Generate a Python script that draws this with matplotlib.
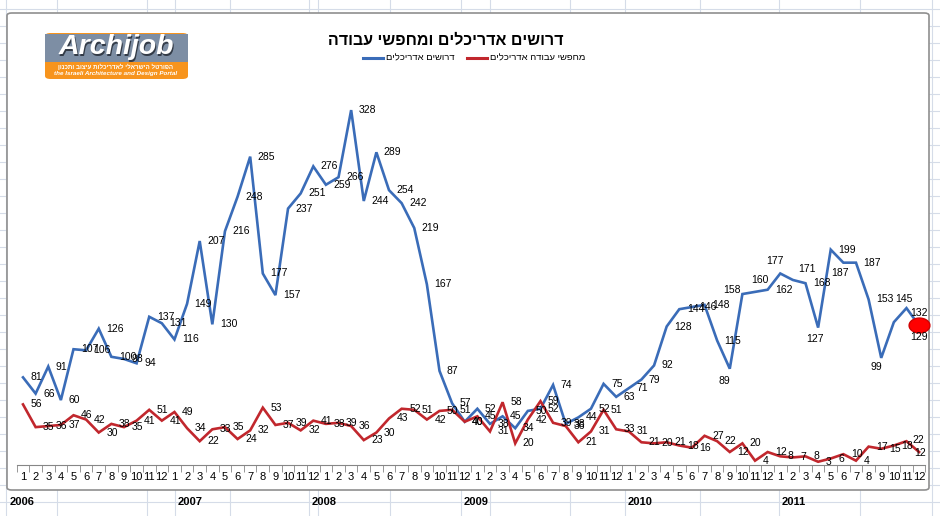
import numpy as np
import matplotlib.pyplot as plt
from matplotlib.patches import FancyBboxPatch, Rectangle
from matplotlib.lines import Line2D

plt.rcParams['font.family'] = ['Liberation Sans', 'DejaVu Sans']

# --- data (monthly, Jan 2006 - Dec 2011) ---
title_he = 'דרושים אדריכלים ומחפשי עבודה'
wanted_name = 'דרושים אדריכלים'
seekers_name = 'מחפשי עבודה אדריכלים'
years = ['2006', '2007', '2008', '2009', '2010', '2011']
month_labels = [str(m) for m in range(1, 13)] * 6

wanted = [81, 66, 91, 60, 107, 106, 126, 100, 98, 94, 137, 131,
          116, 149, 207, 130, 216, 248, 285, 177, 157, 237, 251, 276,
          259, 266, 328, 244, 289, 254, 242, 219, 167, 87, 57, 40,
          52, 38, 45, 34, 50, 52, 74, 38, 44, 52, 75, 63,
          71, 79, 92, 128, 144, 146, 148, 115, 89, 158, 160, 162,
          177, 171, 168, 127, 199, 187, 187, 153, 99, 132, 145, 129]

seekers = [56, 35, 36, 37, 46, 42, 30, 38, 35, 41, 51, 41,
           49, 34, 22, 33, 35, 24, 32, 53, 37, 39, 32, 41,
           38, 39, 36, 23, 30, 43, 52, 51, 42, 50, 51, 40,
           45, 31, 58, 20, 42, 59, 39, 36, 21, 31, 51, 33,
           31, 21, 20, 21, 18, 16, 27, 22, 12, 20, 4, 12,
           8, 7, 8, 3, 6, 10, 4, 17, 15, 18, 22, 12]

logo_he = 'הפורטל הישראלי לאדריכלות עיצוב ותכנון'
logo_en = 'the Israeli Architecture and Design Portal'

BLUE = '#3a6cb8'
RED = '#c1272d'

# labels that Excel put somewhere other than "right" (pixel offsets, ha)
wanted_lbl_pos = {56: (-5, -12, 'center'), 57: (-10, 4, 'center'), 58: (5, 12, 'center'),
                  60: (-5, 12, 'center'), 61: (14, 11, 'center'), 63: (-3, -11, 'center'),
                  65: (-3, -10, 'center'), 68: (-5, -9, 'center'),
                  69: (25, 9, 'center'), 70: (-3, 9, 'center'), 71: (0, -12, 'center')}
seekers_lbl_pos = {71: (1, -1, 'center'), 70: (12, 1, 'center')}


def rtl(s):
    # matplotlib has no bidi support, draw Hebrew in visual order
    return s[::-1]


W, H = 940, 516
fig = plt.figure(figsize=(9.4, 5.16), dpi=100)
fig.patch.set_facecolor('white')


def fx(px):
    return px / W


def fy(py):
    return 1 - py / H


# spreadsheet grid behind the chart
for y in range(9, H, 17):
    fig.add_artist(Line2D([0, 1], [fy(y), fy(y)], color='#d5dce8', lw=0.8, zorder=0))
for x in [6, 57, 147, 175, 230, 309, 318, 390, 461, 490, 570, 625, 700, 779, 860, 932]:
    fig.add_artist(Line2D([fx(x), fx(x)], [0, 1], color='#d5dce8', lw=0.8, zorder=0))

# chart area
frame = FancyBboxPatch((fx(7), fy(490)), fx(929) - fx(7), fy(13) - fy(490),
                       boxstyle='round,pad=0,rounding_size=0.005',
                       transform=fig.transFigure, fc='white', ec='#8f8f8f', lw=1.2, zorder=1)
fig.add_artist(frame)

# plot area
ymax = 350
ax = fig.add_axes([fx(16.7), fy(465), fx(925.4) - fx(16.7), ymax * 1.082 / H])
ax.set_zorder(3)
ax.patch.set_alpha(0)
x = np.arange(len(wanted))
ax.plot(x, wanted, color=BLUE, lw=1.9, zorder=3, solid_joinstyle='miter')
ax.plot(x, seekers, color=RED, lw=1.9, zorder=3, solid_joinstyle='miter')


def put_labels(vals, special):
    for i, v in enumerate(vals):
        dx, dy, ha = special.get(i, (7.5, 0, 'left'))
        ax.annotate(str(v), (i, v), xytext=(dx * 0.72, dy * 0.72), textcoords='offset points',
                    ha=ha, va='center', fontsize=7.5, zorder=5, annotation_clip=False)


put_labels(wanted, wanted_lbl_pos)
put_labels(seekers, seekers_lbl_pos)

# highlighted last point
t = np.linspace(0, 2 * np.pi, 40)
ellipse = np.column_stack([1.4 * np.cos(t), np.sin(t)])
ax.plot([x[-1]], [wanted[-1]], marker=ellipse, ms=15, color='#ff0000', mec='#d00000',
        zorder=4, clip_on=False)

ax.set_xlim(-0.5, len(x) - 0.5)
ax.set_ylim(0, ymax)
for s in ['left', 'right', 'top']:
    ax.spines[s].set_visible(False)
ax.spines['bottom'].set_color('#868686')
ax.set_yticks([])
ax.set_xticks(x)
ax.set_xticklabels(month_labels, fontsize=8)
ax.set_xticks(np.arange(-0.5, len(x), 1), minor=True)
ax.tick_params(axis='x', which='major', length=0, pad=5)
ax.tick_params(axis='x', which='minor', length=5, color='#868686', direction='out')

# title and legend
fig.text(fx(446), fy(40), rtl(title_he), ha='center', va='center', fontsize=11.5,
         fontweight='bold', zorder=4)
fig.add_artist(Line2D([fx(363), fx(383)], [fy(58), fy(58)], color=BLUE, lw=2.2, zorder=4))
fig.text(fx(386), fy(58), rtl(wanted_name), ha='left', va='center', fontsize=6.8, zorder=4)
fig.add_artist(Line2D([fx(467), fx(487)], [fy(58), fy(58)], color=RED, lw=2.2, zorder=4))
fig.text(fx(490), fy(58), rtl(seekers_name), ha='left', va='center', fontsize=6.8, zorder=4)

# logo
fig.add_artist(FancyBboxPatch((fx(45), fy(79)), fx(188) - fx(45), fy(33) - fy(79),
                              boxstyle='round,pad=0,rounding_size=0.006',
                              transform=fig.transFigure, fc='#f7941d', ec='none', zorder=2))
fig.add_artist(Rectangle((fx(45), fy(62)), fx(188) - fx(45), fy(34) - fy(62),
                         transform=fig.transFigure, fc='#7d8ea4', ec='none', zorder=2))
fig.text(fx(117), fy(48) - 0.002, 'Archijob', ha='center', va='center', fontsize=20.5,
         fontweight='bold', style='italic', color='#333b47', zorder=3)
fig.text(fx(116), fy(47), 'Archijob', ha='center', va='center', fontsize=20.5,
         fontweight='bold', style='italic', color='white', zorder=4)
fig.text(fx(116), fy(67), rtl(logo_he), ha='center', va='center', fontsize=4.5,
         fontweight='bold', color='white', zorder=4)
fig.text(fx(116), fy(74), logo_en, ha='center', va='center', fontsize=4.5,
         fontweight='bold', style='italic', color='white', zorder=4)

# year cells under the chart
for yr, px in zip(years, [10, 178, 312, 464, 628, 782]):
    fig.text(fx(px), fy(502), yr, ha='left', va='center', fontsize=8, fontweight='bold')

fig.savefig('out.png', dpi=100)
